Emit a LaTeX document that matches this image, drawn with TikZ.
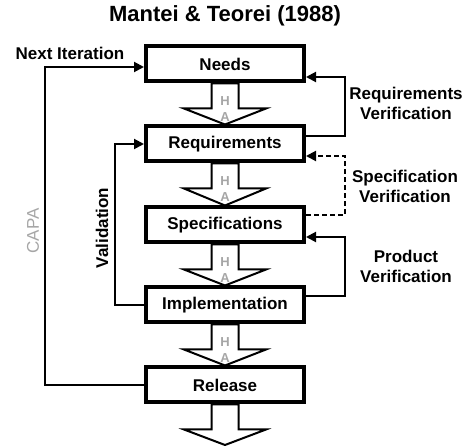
\documentclass[tikz,border=0pt]{standalone}
\usepackage{fontspec}
\setmainfont{Liberation Sans}
\usetikzlibrary{arrows.meta,calc}
\definecolor{hagray}{HTML}{A6A6A6}
\begin{document}
\begin{tikzpicture}[x=1pt,y=-1pt,
  stage/.style={draw, line width=4pt, minimum width=158pt, minimum height=35pt,
    inner sep=0pt, font=\fontsize{17}{20}\selectfont\bfseries},
  conn/.style={line width=2pt, -{Triangle[length=10pt,width=10pt]}},
  hollow/.style={draw, line width=2pt, fill=white, line join=miter},
  lbl/.style={font=\fontsize{17}{20}\selectfont\bfseries, align=center},
  ha/.style={font=\bfseries\fontsize{13}{14}\selectfont, text=hagray, inner sep=0pt},
  capa/.style={font=\fontsize{17}{20}\selectfont, text=hagray}]
\useasboundingbox (0,0) rectangle (467,446);

% title
\node[font=\fontsize{22}{24}\selectfont\bfseries] (title) at (225,16) {Mantei \& Teorei (1988)};

% process stages
\node[stage] (needs) at (225,64)  {Needs};
\node[stage] (req)   at (225,144) {Requirements};
\node[stage] (spec)  at (225,225) {Specifications};
\node[stage] (impl)  at (225,305) {Implementation};
\node[stage] (rel)   at (225,385) {Release};
\coordinate (out) at (225,445);

% hollow block arrows between stages
\newcommand{\blockarrow}[2]{%
  \draw[hollow] ($(#1.south)+(-13.5,0)$) -- ($(#1.south)+(13.5,0)$)
    -- ($(#1.south)+(13.5,25)$) -- ($(#1.south)+(41,25)$) -- (#2)
    -- ($(#1.south)+(-41,25)$) -- ($(#1.south)+(-13.5,25)$) -- cycle;}

\blockarrow{needs}{req.north}
\blockarrow{req}{spec.north}
\blockarrow{spec}{impl.north}
\blockarrow{impl}{rel.north}
\blockarrow{rel}{out}
\foreach \s in {needs,req,spec,impl}{
  \node[ha] at ($(\s.south)+(0,17.5)$) {H};
  \node[ha] at ($(\s.south)+(0,34)$) {A};
}

% verification loops on the right
\draw[conn] ($(req.east)+(0,-8)$) -- ++(39,0) |- ($(needs.east)+(0,13)$);
\draw[conn, dash pattern=on 5pt off 3pt] ($(spec.east)+(0,-10)$) -- ++(39,0) |- ($(req.east)+(0,12)$);
\draw[conn] ($(impl.east)+(0,-9)$) -- ++(39,0) |- ($(spec.east)+(0,12)$);

\node[lbl] (rv) at (406,103) {Requirements\\Verification};
\node[lbl] (sv) at (405,186) {Specification\\Verification};
\node[lbl] (pv) at (406,266) {Product\\Verification};

% validation and iteration loops on the left
\draw[conn] (impl.west) -- ++(-29,0) |- (req.west);
\node[lbl, rotate=90] (val) at (102,228) {Validation};

\draw[conn] (rel.west) -- ++(-99,0) |- ($(needs.west)+(0,3)$);
\node[lbl] (next) at (70,53) {Next Iteration};
\node[capa, rotate=90] (capalbl) at (33,231) {CAPA};
\end{tikzpicture}
\end{document}
